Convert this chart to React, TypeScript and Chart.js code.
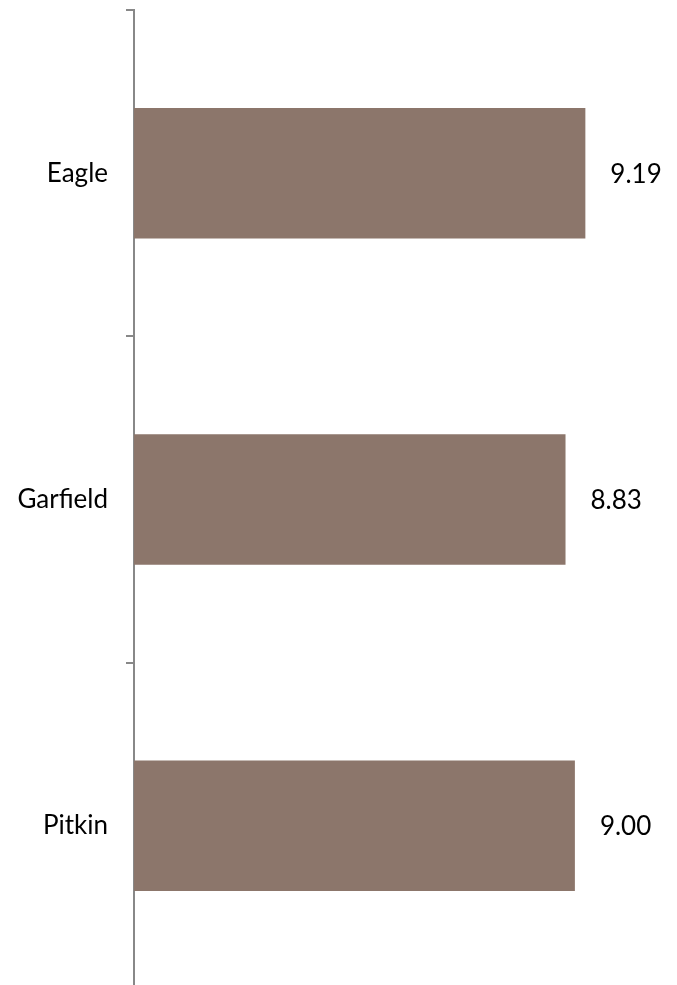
import React, { useEffect, useRef } from "react";
import { Chart, registerables } from "chart.js";

Chart.register(...registerables);

const categories = ["Eagle", "Garfield", "Pitkin"];
const values = [9.19, 8.83, 9.0];
const valueLabels = ["9.19", "8.83", "9.00"];

const valueLabelPlugin = {
  id: "valueLabels",
  afterDatasetsDraw(chart: any) {
    const ctx = chart.ctx;
    const meta = chart.getDatasetMeta(0);
    ctx.save();
    ctx.font = "26px Lato";
    ctx.fillStyle = "#000000";
    ctx.textAlign = "left";
    ctx.textBaseline = "middle";
    meta.data.forEach((bar: any, i: number) => {
      ctx.fillText(valueLabels[i], bar.x + 25, bar.y + 1);
    });
    ctx.restore();
  },
};

export default function App() {
  const ref = useRef<HTMLCanvasElement>(null);
  useEffect(() => {
    if (!ref.current) return;
    const chart = new Chart(ref.current, {
      type: "bar",
      data: {
        labels: categories,
        datasets: [
          {
            data: values,
            backgroundColor: "#8C766B",
            barPercentage: 0.4,
            categoryPercentage: 1,
          },
        ],
      },
      options: {
        indexAxis: "y",
        animation: false,
        responsive: false,
        maintainAspectRatio: false,
        layout: { padding: { top: 10, bottom: 0, left: 0, right: 47 } },
        plugins: { legend: { display: false }, tooltip: { enabled: false } },
        scales: {
          x: {
            min: 1,
            max: 10,
            display: false,
          },
          y: {
            afterFit: (scale: any) => {
              scale.width = 134;
              scale.paddingTop = 0;
              scale.paddingBottom = 0;
            },
            grid: {
              offset: true,
              drawOnChartArea: false,
              drawTicks: true,
              tickLength: 8,
              color: "#888888",
              lineWidth: 2,
            },
            border: { color: "#888888", width: 2 },
            ticks: {
              padding: 18,
              color: "#000000",
              font: { family: "Lato", size: 26 },
            },
          },
        },
      },
      plugins: [valueLabelPlugin],
    });
    return () => chart.destroy();
  }, []);
  return (
    <div style={{ position: "fixed", left: 0, top: 0, width: 677, height: 985, overflow: "hidden", background: "#fff" }}>
      <canvas ref={ref} width={677} height={989} style={{ width: 677, height: 989, display: "block" }} />
    </div>
  );
}
